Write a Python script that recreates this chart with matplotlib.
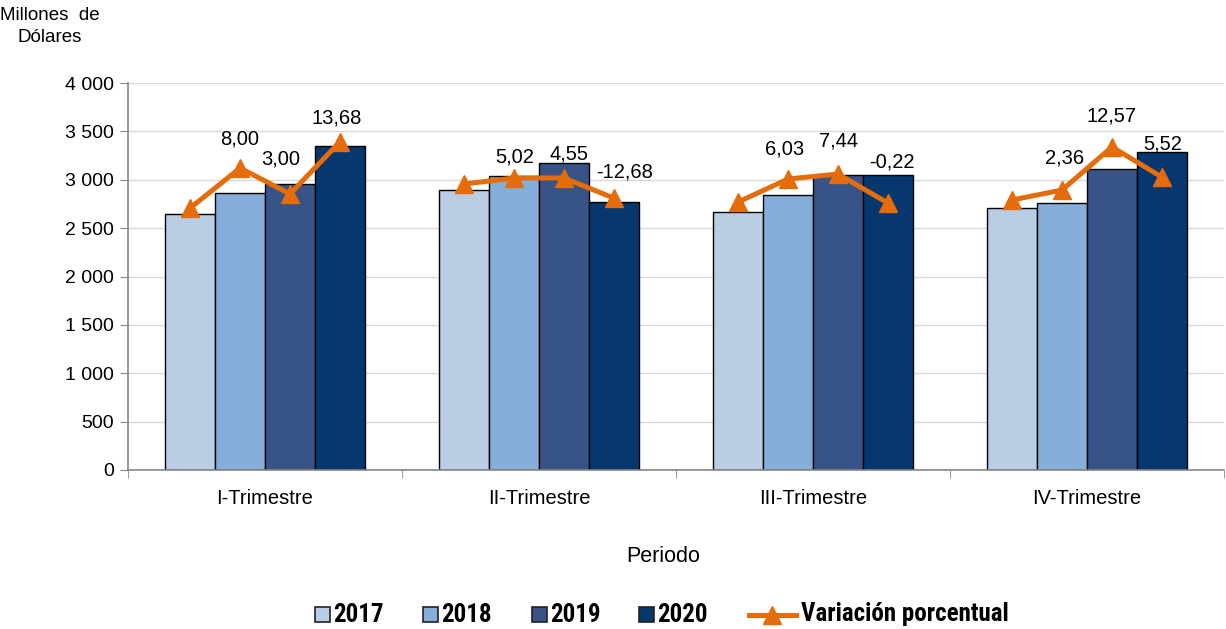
import numpy as np
import matplotlib.pyplot as plt
from matplotlib import font_manager
from matplotlib.ticker import FuncFormatter, FixedLocator
from matplotlib.lines import Line2D
from matplotlib.patches import Rectangle

plt.rcParams['font.family'] = ['Liberation Sans', 'DejaVu Sans']

# Datos
trimestres = ['I-Trimestre', 'II-Trimestre', 'III-Trimestre', 'IV-Trimestre']
anios = ['2017', '2018', '2019', '2020']
v2017 = [2646, 2894, 2667, 2708]
v2018 = [2863, 3039, 2842, 2760]
v2019 = [2956, 3173, 3049, 3111]
v2020 = [3349, 2770, 3049, 3287]

linea_I = [2708, 3121, 2853, 3390]
linea_II = [2956, 3018, 3018, 2811]
linea_III = [2770, 3008, 3059, 2760]
linea_IV = [2791, 2894, 3339, 3028]
var_I = [None, 8.00, 3.00, 13.68]
var_II = [None, 5.02, 4.55, -12.68]
var_III = [None, 6.03, 7.44, -0.22]
var_IV = [None, 2.36, 12.57, 5.52]

colores = ['#B9CDE5', '#85AEDB', '#375387', '#06376F']
naranja = '#E46C0A'

W, H = 1226, 629
fig = plt.figure(figsize=(W / 100, H / 100), dpi=100)
ax = fig.add_axes([128 / W, 159 / H, 1096 / W, 387 / H])

x = np.arange(len(trimestres))
ancho = 0.182
desp = [-1.5 * ancho, -0.5 * ancho, 0.5 * ancho, 1.5 * ancho]
for serie, d, c in zip([v2017, v2018, v2019, v2020], desp, colores):
    ax.bar(x + d, serie, width=ancho, color=c, edgecolor='black', linewidth=1, zorder=2)

# ajustes de etiquetas en px (dx, dy sobre el marcador)
ajustes = [[(0, 0), (0, 29), (-9, 35), (-3, 24)],
           [(0, 0), (1, 21), (5, 24), (11, 26)],
           [(0, 0), (-4, 30), (1, 33), (4, 41)],
           [(0, 0), (2, 32), (0, 31), (1, 33)]]
px = 72 / 100
for i, (lin, var) in enumerate(zip([linea_I, linea_II, linea_III, linea_IV],
                                   [var_I, var_II, var_III, var_IV])):
    xs = i + np.array(desp)
    ax.plot(xs, lin, color=naranja, lw=3.6, marker='^', ms=13, zorder=4, clip_on=False)
    for j, v in enumerate(var):
        if v is None:
            continue
        dx, dy = ajustes[i][j]
        ax.annotate(f'{v:.2f}'.replace('.', ','), (xs[j], lin[j]),
                    xytext=(dx * px, dy * px), textcoords='offset points',
                    ha='center', va='center', fontsize=14.5, zorder=5)

ax.set_xlim(-0.5, 3.5)
ax.set_ylim(0, 4000)
ax.set_yticks(np.arange(0, 4001, 500))
ax.yaxis.set_major_formatter(FuncFormatter(lambda v, p: f'{int(v):,}'.replace(',', ' ')))
ax.set_xticks(x)
ax.set_xticklabels(trimestres)
ax.xaxis.set_minor_locator(FixedLocator(np.arange(-0.5, 4, 1)))
ax.tick_params(axis='x', which='major', length=0, pad=14, labelsize=14.5)
ax.tick_params(axis='x', which='minor', length=6, color='#868686')
ax.tick_params(axis='y', length=6, color='#868686', labelsize=14, pad=4)
ax.grid(axis='y', color='#D9D9D9', lw=1, zorder=0)
ax.set_axisbelow(True)
for s in ['top', 'right']:
    ax.spines[s].set_visible(False)
for s in ['left', 'bottom']:
    ax.spines[s].set_color('#868686')
    ax.spines[s].set_linewidth(1.2)

fig.text(50 / W, 1 - 15 / H, 'Millones  de', ha='center', va='center', fontsize=13.5)
fig.text(50 / W, 1 - 38 / H, 'Dólares', ha='center', va='center', fontsize=13.5)
fig.text(663 / W, 1 - 556 / H, 'Periodo', ha='center', va='center', fontsize=15.5)

# leyenda dibujada a mano (fuente estrecha en negrita si existe)
nombres = {f.name for f in font_manager.fontManager.ttflist}
estrecha = next((n for n in ['Liberation Sans Narrow', 'Arial Narrow', 'Roboto Condensed',
                             'Open Sans Condensed'] if n in nombres), None)
if estrecha:
    ley_font = {'family': [estrecha, 'Liberation Sans'], 'weight': 'bold', 'size': 18}
else:
    ley_font = {'family': ['Liberation Sans'], 'weight': 'bold', 'size': 15.6}

yc = 1 - 614.5 / H
lado = 15
for c, a, xl in zip(colores, anios, [315, 423, 532, 639]):
    fig.add_artist(Rectangle((xl / W, yc - lado / 2 / H), lado / W, lado / H,
                             facecolor=c, edgecolor='#222222', lw=1.2,
                             transform=fig.transFigure))
    fig.text((xl + lado + 3) / W, yc, a, ha='left', va='center', **ley_font)
fig.add_artist(Line2D([749 / W, 796 / W], [yc, yc], color=naranja, lw=3.6,
                      transform=fig.transFigure))
fig.add_artist(Line2D([772 / W], [yc], color=naranja, marker='^', ms=13, ls='none',
                      transform=fig.transFigure))
fig.text(801 / W, yc, 'Variación porcentual', ha='left', va='center', **ley_font)

fig.savefig('out.png', dpi=100)
